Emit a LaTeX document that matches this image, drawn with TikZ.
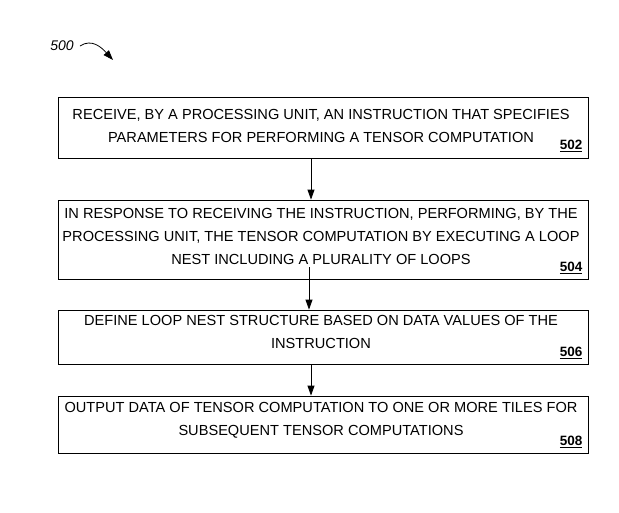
\documentclass[tikz,border=0pt]{standalone}
\usepackage{fontspec}
\setmainfont{Liberation Sans}
\usetikzlibrary{arrows.meta}
\begin{document}
\begin{tikzpicture}[x=1pt,y=-1pt,>={Triangle[length=10pt,width=7pt]}]
        \tikzstyle{stepbox}=[draw,thick,rectangle,inner sep=0pt]
        \tikzstyle{steptext}=[align=center,font=\fontsize{14.6}{23}\selectfont]
        \tikzstyle{num}=[anchor=south east,font=\fontsize{13.5}{13.5}\selectfont\bfseries]
        \tikzstyle{flow}=[draw,thick,->]
        \useasboundingbox (0,0) rectangle (619,512);
        \node [font=\fontsize{14}{14}\selectfont\itshape] (n500) at (62,46) {500};
        \draw[thick,->] (80,46) .. controls (92,38) and (102,48) .. (113,60);
        % boxes
        \node [stepbox,minimum width=530,minimum height=61] (s502) at (323,127.5) {};
        \node [stepbox,minimum width=530,minimum height=79] (s504) at (323,239.5) {};
        \node [stepbox,minimum width=530,minimum height=54] (s506) at (323,337) {};
        \node [stepbox,minimum width=530,minimum height=57] (s508) at (323,424.5) {};
        \node [steptext] (t502) at (321,126) {RECEIVE, BY A PROCESSING UNIT, AN INSTRUCTION THAT SPECIFIES\\PARAMETERS FOR PERFORMING A TENSOR COMPUTATION};
        \node [steptext] (t504) at (321,236) {IN RESPONSE TO RECEIVING THE INSTRUCTION, PERFORMING, BY THE\\PROCESSING UNIT, THE TENSOR COMPUTATION BY EXECUTING A LOOP\\NEST INCLUDING A PLURALITY OF LOOPS};
        \node [steptext] (t506) at (321,332) {DEFINE LOOP NEST STRUCTURE BASED ON DATA VALUES OF THE\\INSTRUCTION};
        \node [steptext] (t508) at (321,420) {OUTPUT DATA OF TENSOR COMPUTATION TO ONE OR MORE TILES FOR\\SUBSEQUENT TENSOR COMPUTATIONS};
        \node [num] (l502) at (586,155) {\underline{502}};
        \node [num] (l504) at (586,277) {\underline{504}};
        \node [num] (l506) at (586,362) {\underline{506}};
        \node [num] (l508) at (586,451) {\underline{508}};
        % arrows
        \coordinate (a504) at (309,267);
        \path[flow] (s502.south -| 311,0) -- (s504.north -| 311,0);
        \path[flow] (a504) -- (s506.north -| a504);
        \path[flow] (s506.south -| 311,0) -- (s508.north -| 311,0);
\end{tikzpicture}
\end{document}
